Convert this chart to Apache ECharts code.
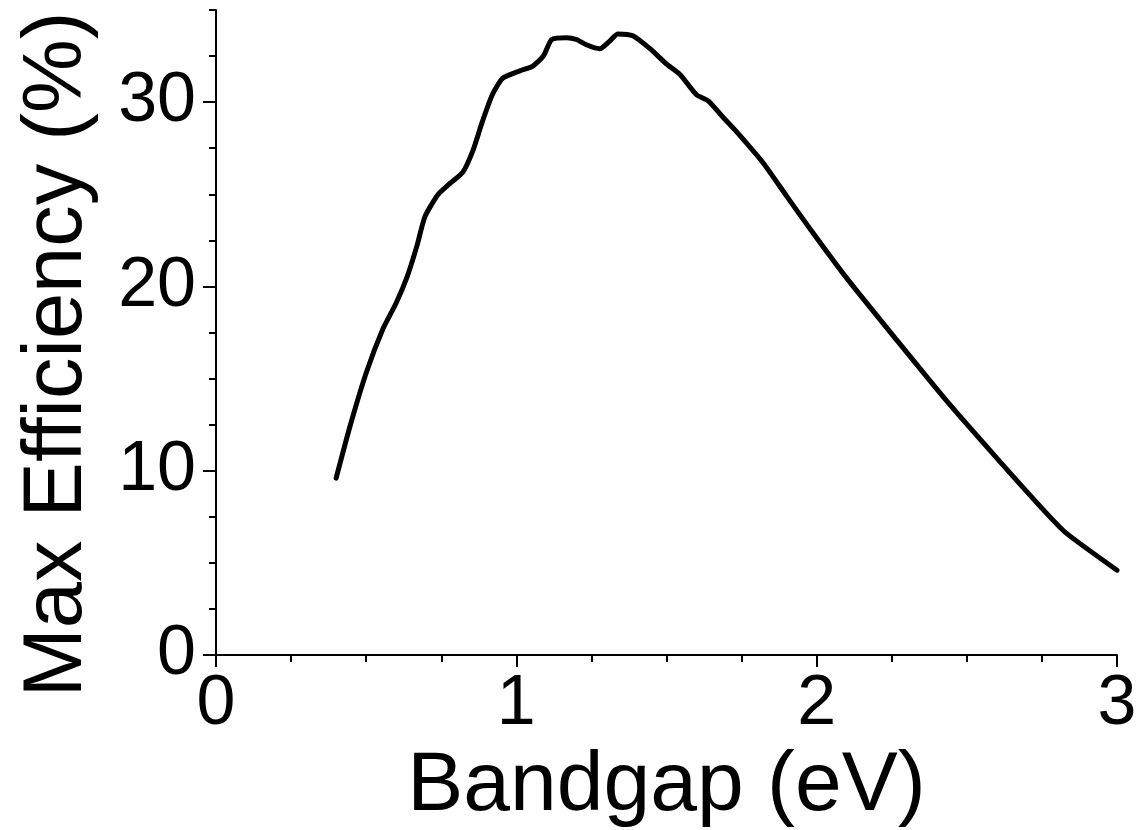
<!DOCTYPE html>
<html>
<head>
<meta charset="utf-8">
<script src="https://cdn.jsdelivr.net/npm/echarts@6/dist/echarts.min.js"></script>
<style>
html,body{margin:0;padding:0;background:#fff;}
#chart{width:1139px;height:830px;}
</style>
</head>
<body>
<div id="chart"></div>
<script>
const bandgap = [0.40, 0.446, 0.50, 0.556, 0.60, 0.636, 0.669, 0.696, 0.74, 0.78, 0.822, 0.856, 0.886, 0.92, 0.955, 1.012, 1.055, 1.09, 1.118, 1.168, 1.20, 1.235, 1.278, 1.31, 1.338, 1.388, 1.445, 1.50, 1.545, 1.60, 1.639, 1.689, 1.733, 1.822, 1.90, 1.988, 2.10, 2.266, 2.432, 2.599, 2.765, 2.832, 3.0];
const efficiency = [9.6, 12.4, 15.3, 17.7, 19.1, 20.5, 22.2, 23.8, 25.0, 25.6, 26.2, 27.4, 28.9, 30.4, 31.3, 31.7, 31.96, 32.5, 33.4, 33.5, 33.4, 33.1, 32.9, 33.3, 33.7, 33.6, 32.9, 32.07, 31.5, 30.4, 30.07, 29.17, 28.4, 26.7, 24.9, 22.9, 20.45, 17.1, 13.8, 10.7, 7.7, 6.6, 4.6];
const xTicks = [0, 1, 2, 3];
const yTicks = [0, 10, 20, 30];
const xTitle = 'Bandgap (eV)';
const yTitle = 'Max Efficiency (%)';

const points = bandgap.map((x, i) => [x, efficiency[i]]);
const font = '"Liberation Sans", Arial, sans-serif';
const ink = '#000';

const chart = echarts.init(document.getElementById('chart'), null, {renderer: 'canvas'});
chart.setOption({
  animation: false,
  backgroundColor: '#fff',
  grid: {left: 216, right: 22, top: 10, bottom: 175, containLabel: false, outerBoundsMode: 'none'},
  xAxis: {
    type: 'value', min: 0, max: 3, interval: 1,
    name: xTitle, nameLocation: 'middle', nameGap: 81,
    nameTextStyle: {fontFamily: font, fontSize: 84, color: ink},
    axisLine: {show: true, onZero: false, lineStyle: {color: ink, width: 2}},
    axisTick: {show: true, inside: false, length: 12, lineStyle: {color: ink, width: 2}},
    minorTick: {show: true, splitNumber: 4, length: 7, lineStyle: {color: ink, width: 2}},
    axisLabel: {fontFamily: font, fontSize: 70, color: ink, margin: 15,
      formatter: v => xTicks.includes(v) ? String(v) : ''},
    splitLine: {show: false}, minorSplitLine: {show: false}
  },
  yAxis: [{
    type: 'value', min: 0, max: 35,
    name: yTitle, nameLocation: 'middle', nameGap: 116,
    nameTextStyle: {fontFamily: font, fontSize: 83, color: ink, padding: [0, 44, 0, 0]},
    axisLine: {show: true, onZero: false, lineStyle: {color: ink, width: 2}},
    axisTick: {show: true, inside: false, length: 13, customValues: yTicks, lineStyle: {color: ink, width: 2}},
    axisLabel: {fontFamily: font, fontSize: 70, color: ink, margin: 20, customValues: yTicks},
    splitLine: {show: false}
  }, {
    type: 'value', min: 0, max: 35, interval: 2.5, position: 'left',
    axisLine: {show: false},
    axisTick: {show: true, inside: false, length: 7, lineStyle: {color: ink, width: 2}},
    axisLabel: {show: false},
    splitLine: {show: false}
  }],
  series: [{
    type: 'line', data: points, yAxisIndex: 0,
    showSymbol: false, symbol: 'none', smooth: 0.2,
    lineStyle: {color: ink, width: 5, join: 'round', cap: 'round'}
  }]
});
</script>
</body>
</html>
